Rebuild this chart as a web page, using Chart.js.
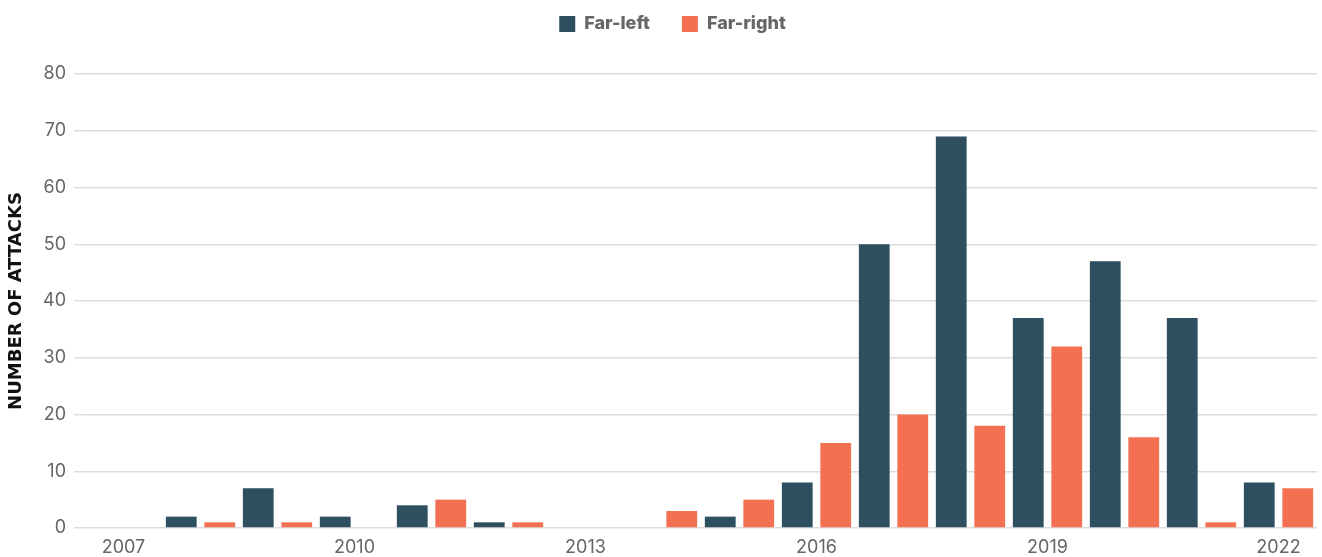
<!DOCTYPE html>
<html>
<head>
<meta charset="utf-8">
<title>Far-left and far-right attacks</title>
<script src="https://cdn.jsdelivr.net/npm/chart.js@4/dist/chart.umd.min.js"></script>
<style>
  html, body { margin: 0; padding: 0; background: #fff; }
  #wrap { width: 1322px; height: 557px; position: relative; }
</style>
</head>
<body>
<div id="wrap"><canvas id="attacks-chart"></canvas></div>
<script>
const years = ['2007', '2008', '2009', '2010', '2011', '2012', '2013', '2014',
               '2015', '2016', '2017', '2018', '2019', '2020', '2021', '2022'];
const farLeft  = [0, 2, 7, 2, 4, 1, 0, 0, 2, 8, 50, 69, 37, 47, 37, 8];
const farRight = [0, 1, 1, 0, 5, 1, 0, 3, 5, 15, 20, 18, 32, 16, 1, 7];
const yTicks = [0, 10, 20, 30, 40, 50, 60, 70, 80];

const DARK = '#2e4f5f';
const ORANGE = '#f37152';
const GRID = '#dcdcdc';
const FONT = 'Inter, "Noto Sans", sans-serif';

// extra room under the legend, and nudge it a little to the right
const legendSpacing = {
  id: 'legendSpacing',
  beforeInit(chart) {
    const fit = chart.legend.fit;
    chart.legend.fit = function () {
      fit.call(this);
      this.height += 31;
    };
  },
  afterLayout(chart) {
    chart.legend.left += 14;
    chart.legend.right += 14;
  },
};

const ctx = document.getElementById('attacks-chart').getContext('2d');

new Chart(ctx, {
  type: 'bar',
  data: {
    labels: years,
    datasets: [
      { label: 'Far-left', data: farLeft, backgroundColor: DARK },
      { label: 'Far-right', data: farRight, backgroundColor: ORANGE },
    ],
  },
  plugins: [legendSpacing],
  options: {
    responsive: true,
    maintainAspectRatio: false,
    animation: false,
    datasets: {
      bar: { categoryPercentage: 1.0, barPercentage: 0.8 },
    },
    layout: { padding: { top: -17, right: 5, bottom: 0, left: 0 } },
    plugins: {
      legend: {
        position: 'top',
        labels: {
          boxWidth: 16,
          boxHeight: 16,
          padding: 32,
          color: '#666',
          font: { family: FONT, size: 18, weight: '800' },
        },
      },
      tooltip: { enabled: false },
    },
    scales: {
      x: {
        offset: true,
        grid: { display: false, drawTicks: false },
        border: { display: false },
        afterFit: axis => { axis.height = 29; },
        ticks: {
          autoSkip: false,
          maxRotation: 0,
          padding: 9,
          color: '#666',
          font: { family: FONT, size: 18 },
          callback: (val, i) => (i % 3 === 0 ? years[i] : ''),
        },
      },
      y: {
        min: 0,
        max: 80,
        afterBuildTicks: axis => { axis.ticks = yTicks.map(v => ({ value: v })); },
        afterFit: axis => { axis.width = 85; },
        grid: { color: GRID, lineWidth: 1.5, tickLength: 11, tickColor: GRID },
        border: { display: false },
        ticks: {
          padding: 8,
          color: '#666',
          font: { family: FONT, size: 18 },
        },
        title: {
          display: true,
          text: 'NUMBER OF ATTACKS',
          color: '#111',
          font: { family: '"DejaVu Sans", sans-serif', size: 18, weight: 'bold' },
          padding: { top: 6, bottom: 0 },
        },
      },
    },
  },
});
</script>
</body>
</html>
